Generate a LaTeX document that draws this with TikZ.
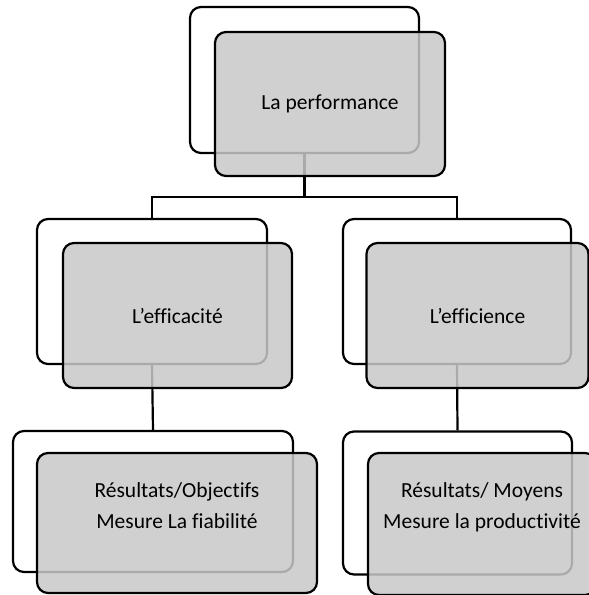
\documentclass[tikz,border=0pt]{standalone}
\usepackage{fontspec}
\setmainfont{Carlito}[Ligatures={NoCommon}]
\begin{document}
\begin{tikzpicture}[x=1pt,y=-1pt,
  back/.style={draw=black,line width=2.2pt,rounded corners=11pt,fill=white,inner sep=0pt},
  front/.style={draw=black,line width=2.2pt,rounded corners=11pt,fill={rgb,255:red,200;green,200;blue,200},fill opacity=0.85,text opacity=1,inner sep=0pt,font=\fontsize{21.5}{31}\selectfont,align=center},
  txt/.style={font=\fontsize{21.5}{31}\selectfont,align=center,inner sep=0pt},
  link/.style={line width=2.2pt}]
\useasboundingbox (0,0) rectangle (589,595);
\clip (0,0) rectangle (589,595);
% back boxes
\node[back,minimum width=229pt,minimum height=146pt] (wT) at (304.5,80) {};
\node[back,minimum width=230pt,minimum height=145pt] (wL) at (152,291.5) {};
\node[back,minimum width=228pt,minimum height=145pt] (wR) at (457,291.5) {};
\node[back,minimum width=280pt,minimum height=141pt] (wBL) at (153,501.5) {};
\node[back,minimum width=229pt,minimum height=143pt] (wBR) at (457.5,503) {};
% connectors
\coordinate (bus) at (304.5,197);
\draw[link] (wT.south) -- (bus);
\draw[link] (bus) -| (wL.north);
\draw[link] (bus) -| (wR.north);
\draw[link] (wL.south) -- (wBL.north);
\draw[link] (wR.south) -- (wBR.north);
% front boxes
\node[front,minimum width=230pt,minimum height=144pt] (gT) at (330,104) {La performance};
\node[front,minimum width=229pt,minimum height=145pt] (gL) at (177.5,315.5) {L’efficacité};
\node[front,minimum width=222pt,minimum height=145pt] (gR) at (477.5,315.5) {L’efficience};
\node[front,minimum width=280pt,minimum height=140pt] (gBL) at (177,523) {};
\node[front,minimum width=228pt,minimum height=142pt] (gBR) at (482,524) {};
\node[txt] (tBL) at (177,506) {Résultats/Objectifs\\Mesure La fiabilité};
\node[txt] (tBR) at (482,507) {Résultats/ Moyens\\Mesure la productivité};
\end{tikzpicture}
\end{document}
